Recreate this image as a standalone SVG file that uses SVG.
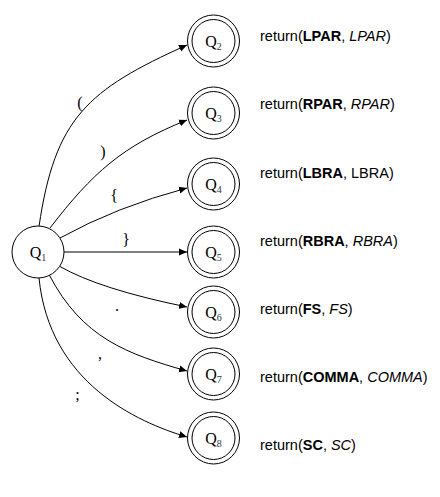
<svg xmlns="http://www.w3.org/2000/svg" width="440" height="497" viewBox="0 0 440 497">
<style>
.st{fill:#fff;stroke:#000;stroke-width:1}
.ql{font-family:"Liberation Serif",serif;font-size:16px;fill:#000}
.sub{font-size:10px;fill:#333}
.el{font-family:"Liberation Serif",serif;font-size:16px;fill:#000;text-anchor:middle}
.ret{font-family:"Liberation Sans",Arial,sans-serif;font-size:14.5px;fill:#000}
.b{font-weight:bold}
.i{font-style:italic}
.e{fill:none;stroke:#000;stroke-width:1;marker-end:url(#arr)}
</style>
<defs>
<marker id="arr" markerUnits="userSpaceOnUse" markerWidth="9" markerHeight="8" refX="8" refY="4" orient="auto">
<path d="M0,0.5 L8,4 L0,7.5 z" fill="#000"/>
</marker>
</defs>
<rect width="440" height="497" fill="#fff"/>
<g id="connectors">
<path class="e" d="M39,226.5 C55,118 87,90 187,45"/>
<path class="e" d="M50,228 C92.4,173 122,146 187,120"/>
<path class="e" d="M60,238 Q116,207 187,188"/>
<path class="e" d="M64,252 L187,252"/>
<path class="e" d="M60,266.5 Q99,289 187,307"/>
<path class="e" d="M49.3,275 C82.2,338 127,354 187,371"/>
<path class="e" d="M39,278 C49.5,383 137,422 187,437"/>
<text class="el" x="80" y="108">(</text>
<text class="el" x="103" y="156.5">)</text>
<text class="el" x="114" y="201">{</text>
<text class="el" x="126" y="245">}</text>
<text class="el" x="117" y="311">.</text>
<text class="el" x="100" y="359">,</text>
<text class="el" x="77.5" y="400">;</text>
</g>
<g id="Q1">
<circle class="st" cx="38" cy="252" r="26"/>
<text class="ql" x="38" y="258" text-anchor="middle">Q<tspan class="sub" dy="3">1</tspan></text>
</g>
<g id="Q2">
<circle class="st" cx="213.5" cy="41" r="26"/><circle class="st" cx="213.5" cy="41" r="21.5"/>
<text class="ql" x="213.5" y="47" text-anchor="middle">Q<tspan class="sub" dy="3">2</tspan></text>
<text class="ret" x="260" y="41">return(<tspan class="b">LPAR</tspan>, <tspan class="i">LPAR</tspan>)</text>
</g>
<g id="Q3">
<circle class="st" cx="213.5" cy="113" r="26"/><circle class="st" cx="213.5" cy="113" r="21.5"/>
<text class="ql" x="213.5" y="119" text-anchor="middle">Q<tspan class="sub" dy="3">3</tspan></text>
<text class="ret" x="260" y="109">return(<tspan class="b">RPAR</tspan>, <tspan class="i">RPAR</tspan>)</text>
</g>
<g id="Q4">
<circle class="st" cx="213.5" cy="184" r="26"/><circle class="st" cx="213.5" cy="184" r="21.5"/>
<text class="ql" x="213.5" y="190" text-anchor="middle">Q<tspan class="sub" dy="3">4</tspan></text>
<text class="ret" x="260" y="177.5">return(<tspan class="b">LBRA</tspan>, LBRA)</text>
</g>
<g id="Q5">
<circle class="st" cx="213.5" cy="252" r="26"/><circle class="st" cx="213.5" cy="252" r="21.5"/>
<text class="ql" x="213.5" y="258" text-anchor="middle">Q<tspan class="sub" dy="3">5</tspan></text>
<text class="ret" x="260" y="246">return(<tspan class="b">RBRA</tspan>, <tspan class="i">RBRA</tspan>)</text>
</g>
<g id="Q6">
<circle class="st" cx="213.5" cy="312" r="26"/><circle class="st" cx="213.5" cy="312" r="21.5"/>
<text class="ql" x="213.5" y="318" text-anchor="middle">Q<tspan class="sub" dy="3">6</tspan></text>
<text class="ret" x="260" y="314">return(<tspan class="b">FS</tspan>, <tspan class="i">FS</tspan>)</text>
</g>
<g id="Q7">
<circle class="st" cx="213.5" cy="374" r="26"/><circle class="st" cx="213.5" cy="374" r="21.5"/>
<text class="ql" x="213.5" y="380" text-anchor="middle">Q<tspan class="sub" dy="3">7</tspan></text>
<text class="ret" x="260" y="382">return(<tspan class="b">COMMA</tspan>, <tspan class="i">COMMA</tspan>)</text>
</g>
<g id="Q8">
<circle class="st" cx="213.5" cy="438" r="26"/><circle class="st" cx="213.5" cy="438" r="21.5"/>
<text class="ql" x="213.5" y="444" text-anchor="middle">Q<tspan class="sub" dy="3">8</tspan></text>
<text class="ret" x="260" y="450">return(<tspan class="b">SC</tspan>, <tspan class="i">SC</tspan>)</text>
</g>
</svg>
